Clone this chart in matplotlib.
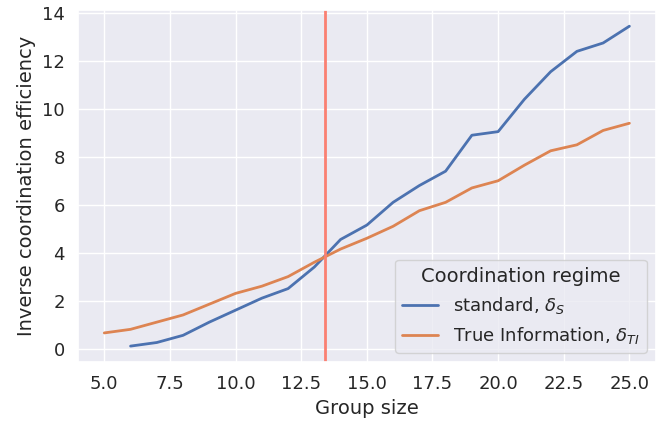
import numpy as np
import matplotlib
matplotlib.use("Agg")
import matplotlib.pyplot as plt
import seaborn as sns

# group sizes
n_standard = [6, 7, 8, 9, 10, 11, 12, 13, 14, 15, 16, 17, 18, 19, 20, 21, 22, 23, 24, 25]
n_true_info = [5, 6, 7, 8, 9, 10, 11, 12, 13, 14, 15, 16, 17, 18, 19, 20, 21, 22, 23, 24, 25]

# inverse coordination efficiency
delta_standard = [0.1, 0.25, 0.55, 1.1, 1.6, 2.1, 2.5, 3.4, 4.55, 5.15, 6.1, 6.8,
                  7.4, 8.9, 9.05, 10.4, 11.55, 12.4, 12.75, 13.45]
delta_true_info = [0.65, 0.8, 1.1, 1.4, 1.85, 2.3, 2.6, 3.0, 3.6, 4.15, 4.6, 5.1,
                   5.75, 6.1, 6.7, 7.0, 7.65, 8.25, 8.5, 9.1, 9.4]

crossover = 13.4

sns.set_theme(style="darkgrid")
plt.rcParams['font.family'] = ['DejaVu Sans']

fig, ax = plt.subplots(figsize=(6.67, 4.25), dpi=100)
fig.subplots_adjust(left=0.117, right=0.983, top=0.976, bottom=0.148)

ax.plot(n_standard, delta_standard, lw=2, label=r'standard, $\delta_S$')
ax.plot(n_true_info, delta_true_info, lw=2, label=r'True Information, $\delta_{TI}$')
ax.axvline(crossover, color='salmon', lw=2)

ax.set_xlabel('Group size', fontsize=14)
ax.set_ylabel('Inverse coordination efficiency', fontsize=14)
ax.tick_params(labelsize=13)

leg = ax.legend(title='Coordination regime', loc='lower right', fontsize=13,
                title_fontsize=14)

fig.savefig('out.png')
